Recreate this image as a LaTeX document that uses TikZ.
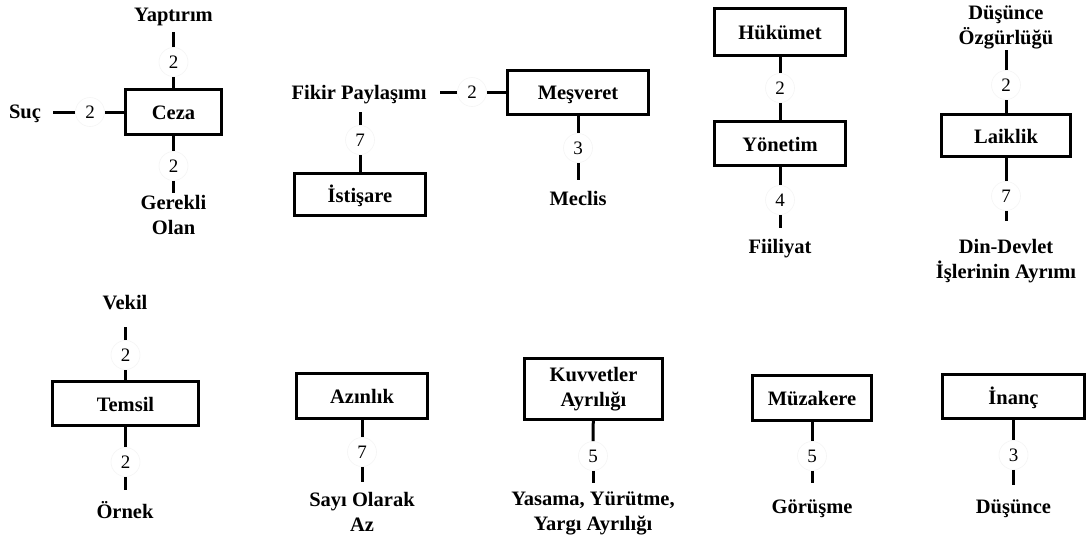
\documentclass[tikz,border=0pt]{standalone}
\usepackage{fontspec}
\setmainfont{Liberation Serif}
\begin{document}
\begin{tikzpicture}[x=1pt,y=-1pt,
  txt/.style={font=\fontsize{20.5}{25}\selectfont\bfseries},
  box/.style={txt,draw,line width=3pt,inner sep=0pt,align=center},
  onebox/.style={box,text height=15pt,text depth=0pt},
  word/.style={txt,inner sep=0pt,outer sep=0pt,align=center},
  one/.style={word,text height=13.5pt,text depth=4.5pt},
  conn/.style={line width=3pt},
  num/.style={circle,fill=white,draw=black!4,line width=0.6pt,minimum size=29pt,inner sep=0pt,font=\fontsize{19}{21}\selectfont}]
\useasboundingbox[fill=white] (0,0) rectangle (1087,544);

% ---------- Ceza ----------
\node[onebox,minimum width=96pt,minimum height=45pt] (ceza) at (173.5,112) {Ceza};
\node[one] (yaptirim) at (173.5,17) {Yaptırım};
\node[one] (suc) at (25,113.5) {Suç};
\node[word,anchor=north] (gerekli) at (173.5,195) {Gerekli\\Olan};
\node[num] (n1) at (173.5,62) {2};
\node[num] (n2) at (90,112) {2};
\node[num] (n3) at (173.5,166) {2};
\draw[conn] (ceza) -- (n1);
\draw[conn,shorten >=6pt] (n1) -- (n1 |- yaptirim.south);
\draw[conn] (ceza) -- (n2);
\draw[conn,shorten >=12pt] (n2) -- (n2 -| suc.east);
\draw[conn] (ceza) -- (n3);
\draw[conn,shorten >=2pt] (n3) -- (n3 |- gerekli.north);

% ---------- Meşveret ----------
\node[onebox,minimum width=141pt,minimum height=44pt] (mesveret) at (578,92) {Meşveret};
\node[one] (fikir) at (359,94.8) {Fikir Paylaşımı};
\node[onebox,minimum width=131pt,minimum height=42pt] (istisare) at (360,194.5) {İstişare};
\node[one] (meclis) at (578,200.5) {Meclis};
\node[num] (n4) at (472,92) {2};
\node[num] (n5) at (360,140) {7};
\node[num] (n6) at (578,148) {3};
\draw[conn] (mesveret) -- (n4);
\draw[conn,shorten >=14pt] (n4) -- (n4 -| fikir.east);
\draw[conn] (istisare) -- (n5);
\draw[conn,shorten >=8pt] (n5) -- (n5 |- fikir.south);
\draw[conn] (mesveret) -- (n6);
\draw[conn,shorten >=11.5pt] (n6) -- (n6 |- meclis.north);

% ---------- Hükümet / Yönetim ----------
\node[onebox,minimum width=131pt,minimum height=47pt] (hukumet) at (780,32) {Hükümet};
\node[onebox,minimum width=131pt,minimum height=44pt] (yonetim) at (780,143.5) {Yönetim};
\node[one] (fiiliyat) at (780,248.5) {Fiiliyat};
\node[num] (n7) at (780,88) {2};
\node[num] (n8) at (780,200) {4};
\draw[conn] (hukumet) -- (n7);
\draw[conn] (n7) -- (yonetim);
\draw[conn] (yonetim) -- (n8);
\draw[conn,shorten >=11.5pt] (n8) -- (n8 |- fiiliyat.north);

% ---------- Laiklik ----------
\node[onebox,minimum width=129pt,minimum height=42pt] (laiklik) at (1006,135.5) {Laiklik};
\node[word,anchor=south] (ozgurluk) at (1006,49) {Düşünce\\Özgürlüğü};
\node[word,anchor=north] (dindevlet) at (1006,239) {Din-Devlet\\İşlerinin Ayrımı};
\node[num] (n9) at (1006,85) {2};
\node[num] (n10) at (1006,196) {7};
\draw[conn] (laiklik) -- (n9);
\draw[conn,shorten >=1pt] (n9) -- (n9 |- ozgurluk.south);
\draw[conn] (laiklik) -- (n10);
\draw[conn,shorten >=18pt] (n10) -- (n10 |- dindevlet.north);

% ---------- Temsil ----------
\node[onebox,minimum width=146pt,minimum height=44pt] (temsil) at (125.5,403.5) {Temsil};
\node[one] (vekil) at (125,304.8) {Vekil};
\node[one] (ornek) at (125,513.8) {Örnek};
\node[num] (n11) at (125.5,355) {2};
\node[num] (n12) at (125.5,462) {2};
\draw[conn] (temsil) -- (n11);
\draw[conn,shorten >=13pt] (n11) -- (n11 |- vekil.south);
\draw[conn] (temsil) -- (n12);
\draw[conn,shorten >=15pt] (n12) -- (n12 |- ornek.north);

% ---------- Azınlık ----------
\node[onebox,minimum width=131pt,minimum height=45pt] (azinlik) at (362,396) {Azınlık};
\node[word,anchor=north] (sayi) at (362,492.5) {Sayı Olarak\\Az};
\node[num] (n13) at (362,452) {7};
\draw[conn] (azinlik) -- (n13);
\draw[conn,shorten >=10.5pt] (n13) -- (n13 |- sayi.north);

% ---------- Kuvvetler Ayrılığı ----------
\node[box,minimum width=138pt,minimum height=61pt] (kuvvet) at (593.5,389) {Kuvvetler\\Ayrılığı};
\node[word,anchor=north] (yasama) at (593,491.5) {Yasama, Yürütme,\\Yargı Ayrılığı};
\node[num] (n14) at (593,456) {5};
\draw[conn] (kuvvet) -- (n14);
\draw[conn,shorten >=8.5pt] (n14) -- (n14 |- yasama.north);

% ---------- Müzakere ----------
\node[onebox,minimum width=119pt,minimum height=45pt] (muzakere) at (812,398) {Müzakere};
\node[one] (gorusme) at (812,508.8) {Görüşme};
\node[num] (n15) at (812,456) {5};
\draw[conn] (muzakere) -- (n15);
\draw[conn,shorten >=16.5pt] (n15) -- (n15 |- gorusme.north);

% ---------- İnanç ----------
\node[onebox,minimum width=142pt,minimum height=44pt] (inanc) at (1013.5,396.5) {İnanç};
\node[one] (dusunce) at (1013.5,508.8) {Düşünce};
\node[num] (n16) at (1013.5,455) {3};
\draw[conn] (inanc) -- (n16);
\draw[conn,shorten >=14.5pt] (n16) -- (n16 |- dusunce.north);
\end{tikzpicture}
\end{document}
